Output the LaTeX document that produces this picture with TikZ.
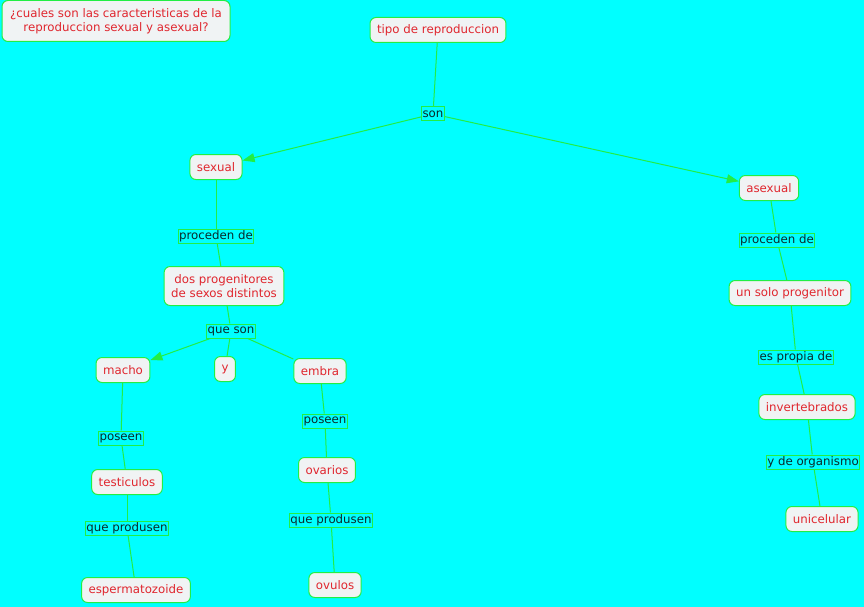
\documentclass[tikz,border=0pt]{standalone}
\usepackage{fontspec}
\setmainfont{DejaVu Sans}
\usetikzlibrary{arrows.meta}
\definecolor{bgc}{HTML}{00FFFF}
\definecolor{edgec}{HTML}{22EE44}
\definecolor{conc}{HTML}{F0F3F4}
\definecolor{txtc}{HTML}{E0262E}
\definecolor{lnkc}{HTML}{0A2A2A}
\tikzset{
  concept/.style={draw=edgec, line width=1pt, fill=conc, rounded corners=6pt,
    text=txtc, font=\fontsize{11.8}{14}\selectfont, align=center,
    minimum height=25pt, inner xsep=7pt, inner ysep=3pt},
  link/.style={draw=edgec, line width=1pt, fill=bgc, text=lnkc,
    font=\fontsize{11.8}{13}\selectfont, inner xsep=1pt, inner ysep=0pt,
    minimum height=14pt},
  conn/.style={draw=edgec, line width=1pt},
  arr/.style={conn, -{Triangle[length=12pt,width=9pt]}}
}
\begin{document}
\begin{tikzpicture}[x=1pt,y=-1pt]
\fill[bgc] (0,0) rectangle (864,607);
\useasboundingbox (0,0) rectangle (864,607);

\node[concept, minimum width=228pt, minimum height=41pt] (q) at (116,21) {¿cuales son las caracteristicas de la\\reproduccion sexual y asexual?};
\node[concept] (tipo) at (438,30) {tipo de reproduccion};
\node[link] (son) at (433,114) {son};
\node[concept] (sex) at (216,167) {sexual};
\node[concept] (asex) at (769,188) {asexual};

\node[link] (pd1) at (216,236) {proceden de};
\node[concept, minimum height=39pt] (dos) at (224,286) {dos progenitores\\de sexos distintos};
\node[link] (qs) at (231,331) {que son};
\node[concept] (macho) at (123,370) {macho};
\node[concept] (y) at (225,369) {y};
\node[concept] (embra) at (320,371) {embra};

\node[link] (pos1) at (121,438) {poseen};
\node[concept] (test) at (127,482) {testiculos};
\node[link] (qp1) at (127,528) {que produsen};
\node[concept] (esp) at (136,590) {espermatozoide};

\node[link] (pos2) at (325,421) {poseen};
\node[concept] (ova) at (327,470) {ovarios};
\node[link] (qp2) at (331,520) {que produsen};
\node[concept] (ovu) at (335,585) {ovulos};

\node[link] (pd2) at (777,240) {proceden de};
\node[concept] (uno) at (790,293) {un solo progenitor};
\node[link] (epd) at (796,357) {es propia de};
\node[concept] (inv) at (807,407) {invertebrados};
\node[link] (ydo) at (813,462) {y de organismo};
\node[concept] (uni) at (822,519) {unicelular};

\draw[conn] (tipo) -- (son);
\draw[arr] (son) -- (sex);
\draw[arr] (son) -- (asex);
\draw[conn] (sex) -- (pd1);
\draw[conn] (pd1) -- (dos);
\draw[conn] (dos) -- (qs);
\draw[arr] (qs) -- (macho);
\draw[conn] (qs) -- (y);
\draw[conn] (qs) -- (embra);
\draw[conn] (macho) -- (pos1);
\draw[conn] (pos1) -- (test);
\draw[conn] (test) -- (qp1);
\draw[conn] (qp1) -- (esp);
\draw[conn] (embra) -- (pos2);
\draw[conn] (pos2) -- (ova);
\draw[conn] (ova) -- (qp2);
\draw[conn] (qp2) -- (ovu);
\draw[conn] (asex) -- (pd2);
\draw[conn] (pd2) -- (uno);
\draw[conn] (uno) -- (epd);
\draw[conn] (epd) -- (inv);
\draw[conn] (inv) -- (ydo);
\draw[conn] (ydo) -- (uni);
\end{tikzpicture}
\end{document}
